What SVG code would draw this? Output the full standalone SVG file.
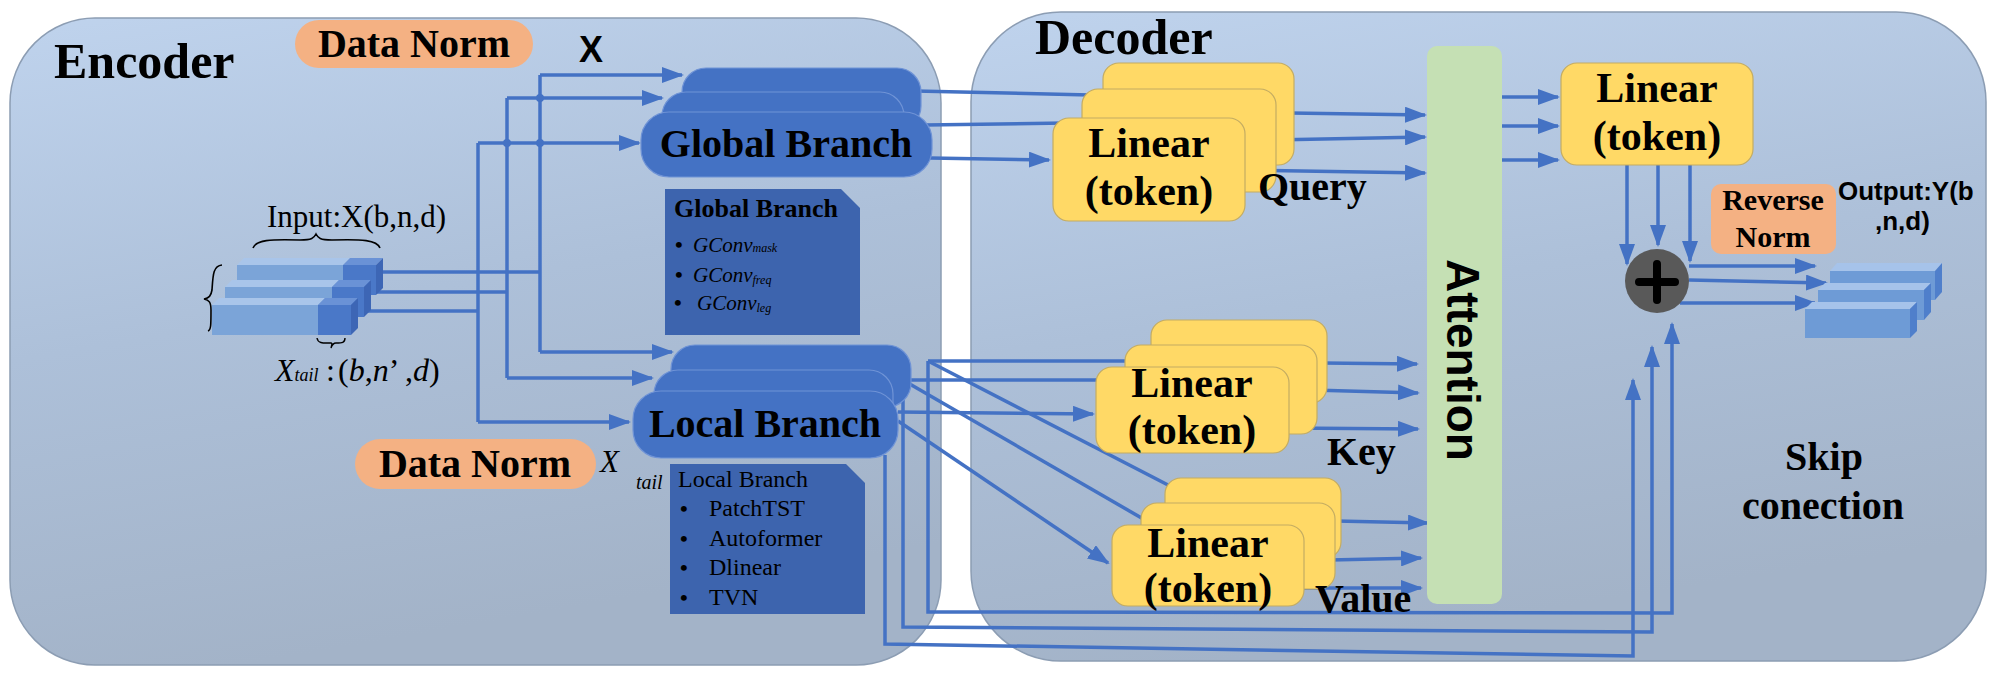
<svg xmlns="http://www.w3.org/2000/svg" width="1999" height="678" viewBox="0 0 1999 678">
<defs>
<linearGradient id="pg" x1="0" y1="0" x2="0.25" y2="1">
<stop offset="0" stop-color="#bfd3ed"/>
<stop offset="0.5" stop-color="#adc0d9"/>
<stop offset="1" stop-color="#a3b3c8"/>
</linearGradient>
<marker id="ah" markerWidth="22" markerHeight="16" refX="20" refY="8" orient="auto" markerUnits="userSpaceOnUse">
<path d="M0,0 L22,8 L0,16 z" fill="#4472c4"/>
</marker>
<style>
.panel{fill:url(#pg);stroke:#8c9db3;stroke-width:1.5}
.br{fill:#4472c4;stroke:#6f93d6;stroke-width:1.2}
.desc{fill:#3d64ae}
.yl{fill:#ffd966;stroke:#c4ac62;stroke-width:1.2}
.pill{fill:#f4b183}
.c{fill:none;stroke:#4472c4;stroke-width:3.5}
.ca{fill:none;stroke:#4472c4;stroke-width:3.5;marker-end:url(#ah)}
.tb{font-family:"Liberation Serif","Times New Roman",serif;font-weight:bold;fill:#000}
.tr{font-family:"Liberation Serif","Times New Roman",serif;fill:#000}
.ti{font-family:"Liberation Serif","Times New Roman",serif;font-style:italic;fill:#000}
.sb{font-family:"Liberation Sans",Arial,sans-serif;font-weight:bold;fill:#000}
.mid{text-anchor:middle}
.bul{font-family:"Liberation Serif","Times New Roman",serif;font-size:22px;font-weight:bold;fill:#000}
</style>
</defs>

<g id="panels">
<rect id="encoder-panel" class="panel" x="10" y="18" width="931" height="647" rx="85" ry="85"/>
<rect id="decoder-panel" class="panel" x="971" y="12" width="1015" height="649" rx="90" ry="90"/>
<text class="tb" x="54" y="78" font-size="50">Encoder</text>
<text class="tb" x="1035" y="54" font-size="50">Decoder</text>
</g>

<g id="connectors">
<path class="c" d="M383,272 H540"/>
<path class="c" d="M372,292 H507"/>
<path class="c" d="M363,311 H478"/>
<path class="c" d="M540,75 V352"/>
<path class="c" d="M507,98 V378"/>
<path class="c" d="M478,143 V422"/>
<path class="ca" d="M540,75 H682"/>
<path class="ca" d="M507,98 H662"/>
<path class="ca" d="M478,143 H639"/>
<path class="ca" d="M540,352 H672"/>
<path class="ca" d="M507,378 H652"/>
<path class="ca" d="M478,422 H629"/>
<circle cx="540" cy="98" r="4" fill="#4472c4"/>
<circle cx="507" cy="143" r="4" fill="#4472c4"/>
<circle cx="540" cy="143" r="4" fill="#4472c4"/>
<path class="c" d="M915,91 L1090,95"/>
<path class="c" d="M925,125 L1066,123"/>
<path class="ca" d="M930,158 L1049,160"/>
<path class="ca" d="M1290,113 L1425,115"/>
<path class="ca" d="M1272,140 L1425,137"/>
<path class="ca" d="M1240,170 L1425,173"/>
<path class="ca" d="M1502,97 H1558"/>
<path class="ca" d="M1502,126 H1558"/>
<path class="ca" d="M1502,160 H1558"/>
<path class="ca" d="M1627,165 V264"/>
<path class="ca" d="M1658,165 V245"/>
<path class="ca" d="M1690,165 V261"/>
<path class="ca" d="M1689,266 H1815"/>
<path class="ca" d="M1689,280 L1826,283"/>
<path class="ca" d="M1680,303 H1815"/>
<path class="c" d="M928,361 H1130"/>
<path class="c" d="M905,380 H1102"/>
<path class="ca" d="M898,412 L1093,414"/>
<path class="ca" d="M1322,363 L1417,364"/>
<path class="ca" d="M1312,390 L1418,393"/>
<path class="ca" d="M1285,428 L1418,429"/>
<path class="c" d="M928,361 L1170,486"/>
<path class="c" d="M908,383 L1145,520"/>
<path class="ca" d="M898,421 L1108,563"/>
<path class="ca" d="M1336,521 L1428,523"/>
<path class="ca" d="M1330,560 L1421,558"/>
<path class="ca" d="M1300,588 H1421"/>
<path class="ca" d="M928,361 V612 L1672,613 V324"/>
<path class="ca" d="M903,383 V627 L1652,632 V347"/>
<path class="ca" d="M885,455 V644 L1633,656 V380"/>
</g>

<g id="data-norm-top">
<rect class="pill" x="295" y="20" width="238" height="48" rx="24"/>
<text class="tb mid" x="414" y="57" font-size="40">Data Norm</text>
</g>
<g id="label-x">
<text class="sb mid" x="591" y="62" font-size="36">X</text>
</g>

<g id="input-x">
<polygon points="237,265 244,258 350,258 343,265" fill="#a9c5ea"/>
<polygon points="343,265 350,258 383,258 376,265" fill="#6a92d6"/>
<rect x="237" y="265" width="106" height="30" fill="#7ba4d8"/>
<rect x="343" y="265" width="33" height="30" fill="#4a78c8"/>
<polygon points="376,265 383,258 383,288 376,295" fill="#3d66b5"/>
<polygon points="225,287 232,280 339,280 332,287" fill="#a9c5ea"/>
<polygon points="332,287 339,280 371,280 364,287" fill="#6a92d6"/>
<rect x="225" y="287" width="107" height="30" fill="#7ba4d8"/>
<rect x="332" y="287" width="32" height="30" fill="#4a78c8"/>
<polygon points="364,287 371,280 371,310 364,317" fill="#3d66b5"/>
<polygon points="212,305 219,298 325,298 318,305" fill="#a9c5ea"/>
<polygon points="318,305 325,298 358,298 351,305" fill="#6a92d6"/>
<rect x="212" y="305" width="106" height="30" fill="#7ba4d8"/>
<rect x="318" y="305" width="33" height="30" fill="#4a78c8"/>
<polygon points="351,305 358,298 358,328 351,335" fill="#3d66b5"/>
<path d="M253,248 C256,240 270,239 300,240 C312,240 314,238 316,234 C318,238 320,240 332,240 C362,239 377,240 380,248" fill="none" stroke="#000" stroke-width="1.6"/>
<path d="M222,265 C213,266 213,275 212,290 C211,296 209,298 204,299 C209,300 211,302 211,310 C211,325 211,330 208,331" fill="none" stroke="#000" stroke-width="1.6"/>
<path d="M317,338 C318,344 324,343 331,343 C333,343 331,347 331,348 C332,345 333,343 336,343 C342,343 345,343 345,338" fill="none" stroke="#000" stroke-width="1.4"/>
<text class="tr" x="267" y="227" font-size="31">Input:X(b,n,d)</text>
<text class="ti" y="381" font-size="32"><tspan x="275">X</tspan><tspan font-size="18">tail</tspan><tspan x="326" font-style="normal">:</tspan><tspan x="338" font-style="normal">(</tspan>b<tspan font-style="normal">,</tspan>n<tspan font-style="normal">’ ,</tspan>d<tspan font-style="normal">)</tspan></text>
</g>

<g id="global-branch">
<rect class="br" x="682" y="68" width="239" height="62" rx="24"/>
<rect class="br" x="662" y="92" width="242" height="62" rx="24"/>
<rect class="br" x="641" y="112" width="291" height="65" rx="28"/>
<text class="tb mid" x="786" y="157" font-size="40">Global Branch</text>
</g>

<g id="global-branch-desc">
<polygon class="desc" points="665,189 841,189 860,208 860,335 665,335"/>
<text class="tb" x="674" y="217" font-size="26">Global Branch</text>
<text class="bul" x="675" y="252">•</text>
<text class="ti" x="693" y="252" font-size="21">GConv<tspan font-size="12">mask</tspan></text>
<text class="bul" x="675" y="282">•</text>
<text class="ti" x="693" y="282" font-size="21">GConv<tspan font-size="12" dy="2">freq</tspan></text>
<text class="bul" x="674" y="310">•</text>
<text class="ti" x="697" y="310" font-size="21">GConv<tspan font-size="12" dy="2">leg</tspan></text>
</g>

<g id="local-branch">
<rect class="br" x="671" y="345" width="240" height="62" rx="24"/>
<rect class="br" x="654" y="370" width="239" height="62" rx="24"/>
<rect class="br" x="633" y="391" width="265" height="67" rx="28"/>
<text class="tb mid" x="765" y="437" font-size="40">Local Branch</text>
</g>

<g id="local-branch-desc">
<polygon class="desc" points="670,464 846,464 865,483 865,614 670,614"/>
<text class="tr" x="678" y="487" font-size="24">Local Branch</text>
<text class="bul" x="680" y="516">•</text>
<text class="tr" x="709" y="516" font-size="24">PatchTST</text>
<text class="bul" x="680" y="546">•</text>
<text class="tr" x="709" y="546" font-size="24">Autoformer</text>
<text class="bul" x="680" y="575">•</text>
<text class="tr" x="709" y="575" font-size="24">Dlinear</text>
<text class="bul" x="680" y="605">•</text>
<text class="tr" x="709" y="605" font-size="24">TVN</text>
</g>

<g id="data-norm-bottom">
<rect class="pill" x="355" y="439" width="241" height="50" rx="25"/>
<text class="tb mid" x="475" y="477" font-size="40">Data Norm</text>
</g>
<g id="label-xtail">
<text class="ti" x="600" y="472" font-size="31">X</text>
<text class="ti" x="636" y="489" font-size="20">tail</text>
</g>

<g id="query-linear">
<rect class="yl" x="1103" y="63" width="191" height="102" rx="16"/>
<rect class="yl" x="1082" y="89" width="194" height="103" rx="16"/>
<rect class="yl" x="1053" y="118" width="192" height="103" rx="16"/>
<text class="tb mid" x="1149" y="157" font-size="42">Linear</text>
<text class="tb mid" x="1149" y="205" font-size="42">(token)</text>
<text class="tb" x="1258" y="200" font-size="40">Query</text>
</g>

<g id="key-linear">
<rect class="yl" x="1151" y="320" width="176" height="83" rx="16"/>
<rect class="yl" x="1125" y="345" width="192" height="89" rx="16"/>
<rect class="yl" x="1096" y="367" width="193" height="86" rx="16"/>
<text class="tb mid" x="1192" y="397" font-size="42">Linear</text>
<text class="tb mid" x="1192" y="444" font-size="42">(token)</text>
<text class="tb" x="1327" y="465" font-size="40">Key</text>
</g>

<g id="value-linear">
<rect class="yl" x="1165" y="478" width="176" height="80" rx="16"/>
<rect class="yl" x="1141" y="503" width="194" height="86" rx="16"/>
<rect class="yl" x="1112" y="525" width="192" height="81" rx="16"/>
<text class="tb mid" x="1208" y="557" font-size="42">Linear</text>
<text class="tb mid" x="1208" y="602" font-size="42">(token)</text>
<text class="tb" x="1315" y="612" font-size="40">Value</text>
</g>

<g id="attention">
<rect x="1427" y="46" width="75" height="558" rx="10" fill="#c5e0b4"/>
<text class="sb mid" x="0" y="0" font-size="46" dominant-baseline="central" transform="translate(1463,360) rotate(90)">Attention</text>
</g>

<g id="output-linear">
<rect class="yl" x="1561" y="63" width="192" height="102" rx="16"/>
<text class="tb mid" x="1657" y="102" font-size="42">Linear</text>
<text class="tb mid" x="1657" y="150" font-size="42">(token)</text>
</g>

<g id="plus">
<circle cx="1657" cy="281" r="32" fill="#595959"/>
<path d="M1639,282 H1675 M1657,264 V300" stroke="#000" stroke-width="8" stroke-linecap="round"/>
</g>

<g id="reverse-norm">
<rect class="pill" x="1711" y="184" width="125" height="70" rx="10"/>
<text class="tb mid" x="1773" y="210" font-size="30">Reverse</text>
<text class="tb mid" x="1773" y="247" font-size="30">Norm</text>
</g>

<g id="output-y">
<polygon points="1830,271 1837,263 1942,263 1935,271" fill="#a6c3ea"/>
<rect x="1830" y="271" width="105" height="29" fill="#6e9bd6"/>
<polygon points="1935,271 1942,263 1942,292 1935,300" fill="#4f7fcb"/>
<polygon points="1818,290 1825,283 1931,283 1924,290" fill="#a6c3ea"/>
<rect x="1818" y="290" width="106" height="30" fill="#6e9bd6"/>
<polygon points="1924,290 1931,283 1931,312 1924,320" fill="#4f7fcb"/>
<polygon points="1805,309 1812,302 1917,302 1910,309" fill="#a6c3ea"/>
<rect x="1805" y="309" width="105" height="29" fill="#6e9bd6"/>
<polygon points="1910,309 1917,302 1917,331 1910,338" fill="#4f7fcb"/>
<text class="sb" x="1838" y="200" font-size="26">Output:Y(b</text>
<text class="sb" x="1875" y="230" font-size="26">,n,d)</text>
</g>

<g id="skip-label">
<text class="tb mid" x="1824" y="470" font-size="40">Skip</text>
<text class="tb mid" x="1823" y="519" font-size="40">conection</text>
</g>
</svg>
